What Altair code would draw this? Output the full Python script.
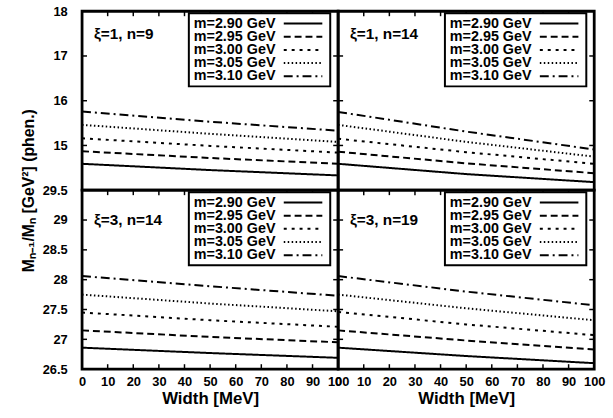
import altair as alt
import pandas as pd

FONT = "Liberation Sans"

# Resonance width (MeV) at which the ratio was evaluated
width_mev = [0, 50, 100]

masses = ["2.90", "2.95", "3.00", "3.05", "3.10"]
mass_labels = ["m=2.90 GeV", "m=2.95 GeV", "m=3.00 GeV", "m=3.05 GeV", "m=3.10 GeV"]
dash_styles = [[1, 0], [7, 4], [3, 5], [1.5, 2.5], [9, 4, 2, 4]]

# M_{n-1}/M_n (phenomenological side), one list per mass, at width_mev
xi1_n9 = [
    [14.59, 14.45, 14.33],
    [14.87, 14.72, 14.59],
    [15.16, 14.99, 14.84],
    [15.46, 15.26, 15.08],
    [15.76, 15.53, 15.33],
]
xi1_n14 = [
    [14.59, 14.36, 14.18],
    [14.86, 14.60, 14.38],
    [15.15, 14.85, 14.59],
    [15.46, 15.08, 14.75],
    [15.75, 15.31, 14.91],
]
xi3_n14 = [
    [26.86, 26.77, 26.69],
    [27.15, 27.04, 26.95],
    [27.45, 27.32, 27.21],
    [27.75, 27.60, 27.47],
    [28.06, 27.89, 27.73],
]
xi3_n19 = [
    [26.86, 26.72, 26.60],
    [27.15, 26.98, 26.83],
    [27.46, 27.25, 27.07],
    [27.75, 27.52, 27.32],
    [28.06, 27.80, 27.57],
]

top_domain = [14, 18]
top_ticks = [15, 16, 17, 18]
bottom_domain = [26.5, 29.5]
bottom_ticks = [26.5, 27, 27.5, 28, 28.5, 29, 29.5]
x_ticks = list(range(0, 101, 10))

W, H = 259, 181
Y_TITLE = "M\u2099\u208b\u2081/M\u2099 [GeV\u00b2] (phen.)"


def panel(label, series, ydomain, yticks, label_y, bottom_row, left_col):
    rows = []
    for m, vals in zip(masses, series):
        for w, v in zip(width_mev, vals):
            rows.append({"width": w, "ratio": v, "m": m})
    df = pd.DataFrame(rows)

    if bottom_row:
        x_axis = alt.Axis(values=x_ticks, format="d", labelFlush=False, labelOverlap=False,
                          ticks=False, domain=False, grid=False, labelPadding=7,
                          labelFontSize=13, title="Width [MeV]", titleFontSize=17,
                          titlePadding=2)
    else:
        x_axis = None

    if left_col:
        kw = dict(values=yticks, format="~g", ticks=False, domain=False, grid=False,
                  labelOverlap=False, labelPadding=15, labelFontSize=13)
        if not bottom_row:
            kw.update(title=Y_TITLE, titleX=-54, titleY=H, titleAngle=270,
                      titleAlign="center", titleBaseline="middle", titleFontSize=16)
        else:
            kw.update(title=None)
        y_axis = alt.Axis(**kw)
    else:
        y_axis = None

    xs = alt.Scale(domain=[0, 100], nice=False, zero=False)
    ys = alt.Scale(domain=ydomain, nice=False, zero=False)

    def X(field):
        return alt.X(field, scale=xs, axis=x_axis)

    def Y(field):
        return alt.Y(field, scale=ys, axis=y_axis)

    lines = alt.Chart(df).mark_line(strokeWidth=2, color="black", clip=True).encode(
        x=X("width:Q"),
        y=Y("ratio:Q"),
        strokeDash=alt.StrokeDash("m:N", scale=alt.Scale(domain=masses, range=dash_styles),
                                  legend=None),
        detail="m:N",
    )

    layers = [lines]

    # inward ticks on the frame
    xt = pd.DataFrame({"t": x_ticks[1:-1]})
    layers.append(alt.Chart(xt).mark_rule(strokeWidth=1.5, color="black").encode(
        x=X("t:Q"), y=alt.value(0), y2=alt.value(5)))
    if bottom_row:
        layers.append(alt.Chart(xt).mark_rule(strokeWidth=1.5, color="black").encode(
            x=X("t:Q"), y=alt.value(H), y2=alt.value(H - 5)))
    inner_y = [v for v in yticks if ydomain[0] < v < ydomain[1]]
    yt = pd.DataFrame({"t": inner_y})
    layers.append(alt.Chart(yt).mark_rule(strokeWidth=1.5, color="black").encode(
        y=Y("t:Q"), x=alt.value(0), x2=alt.value(5)))
    layers.append(alt.Chart(yt).mark_rule(strokeWidth=1.5, color="black").encode(
        y=Y("t:Q"), x=alt.value(W), x2=alt.value(W - 5)))

    # key box
    one = pd.DataFrame({"k": [0]})
    layers.append(alt.Chart(one).mark_rect(fill="white", stroke="black", strokeWidth=2).encode(
        x=alt.value(108), x2=alt.value(251), y=alt.value(2), y2=alt.value(76)))
    for i, (lab, dash) in enumerate(zip(mass_labels, dash_styles)):
        ry = 12.5 + 13.3 * i
        tdf = pd.DataFrame({"lab": [lab]})
        layers.append(alt.Chart(tdf).mark_text(
            align="left", baseline="middle", font=FONT, fontWeight="bold", fontSize=14.5,
            color="black").encode(x=alt.value(113), y=alt.value(ry), text="lab:N"))
        layers.append(alt.Chart(tdf).mark_rule(strokeWidth=2, color="black", strokeDash=dash).encode(
            x=alt.value(204), x2=alt.value(243), y=alt.value(ry)))

    # panel label
    ldf = pd.DataFrame({"lab": [label]})
    layers.append(alt.Chart(ldf).mark_text(
        align="left", baseline="middle", font=FONT, fontWeight="bold", fontSize=15.5,
        color="black").encode(x=alt.value(12), y=alt.value(label_y), text="lab:N"))

    return alt.layer(*layers).properties(width=W, height=H)


tl = panel("\u03be=1, n=9", xi1_n9, top_domain, top_ticks, 23, False, True)
tr = panel("\u03be=1, n=14", xi1_n14, top_domain, top_ticks, 23, False, False)
bl = panel("\u03be=3, n=14", xi3_n14, bottom_domain, bottom_ticks, 30, True, True)
br = panel("\u03be=3, n=19", xi3_n19, bottom_domain, bottom_ticks, 30, True, False)

chart = alt.concat(tl, tr, bl, br, columns=2, spacing=0, bounds="flush").properties(
    padding={"left": 19, "top": 1, "right": 6, "bottom": 4},
    background="white",
).configure_view(
    stroke="black", strokeWidth=2.8
).configure_axis(
    labelFont=FONT, labelFontWeight="bold", labelColor="black",
    titleFont=FONT, titleFontWeight="bold", titleColor="black",
)

chart.save("out.html", embed_options={"renderer": "svg", "actions": False})
